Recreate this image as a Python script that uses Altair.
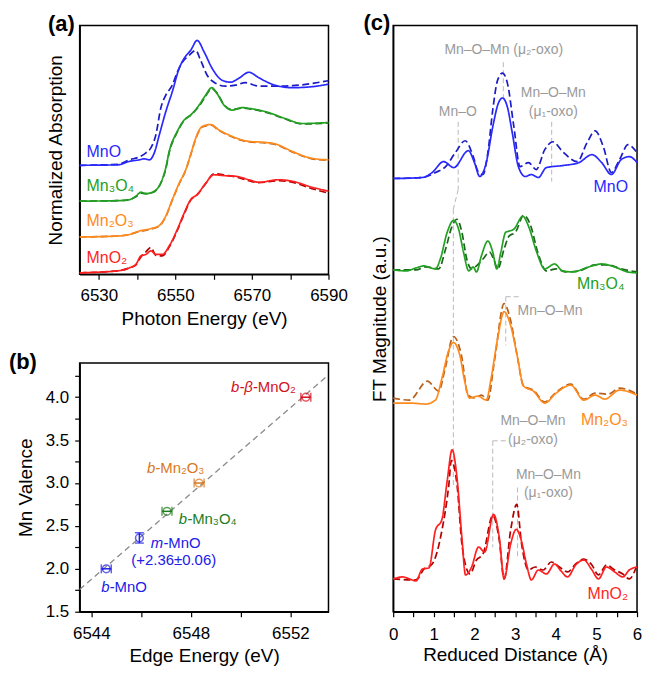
import altair as alt
import pandas as pd

FONT = "Liberation Sans"

# ---------------- (a) Mn K-edge XANES (stacked, offset units) ----------------
a_E_mno_solid = [6525, 6535, 6538.0, 6540.6, 6541.9, 6543.2, 6544.5, 6545.8, 6547.5, 6549.2, 6551.0, 6552.3,
                 6554.0, 6555.7, 6557.5, 6559.6, 6562.2, 6564.4, 6566.6, 6569.2, 6571.8, 6575.3, 6580.5, 6585.7, 6590]
a_mno_solid = [2.19, 2.20, 2.27, 2.30, 2.32, 2.30, 2.44, 2.80, 3.27, 3.67, 4.14, 4.34,
               4.50, 4.70, 4.47, 4.14, 3.90, 3.86, 3.94, 4.06, 3.95, 3.82, 3.75, 3.77, 3.82]
a_E_mno_dash = [6525, 6535, 6538, 6540.6, 6542.3, 6543.6, 6544.9, 6546.2, 6547.5, 6549.2, 6550.5, 6551.8,
                6553.6, 6555.3, 6556.6, 6558.3, 6560.5, 6563.1, 6565.7, 6568.3, 6571.8, 6576.1, 6580.5, 6590]
a_mno_dash = [2.19, 2.21, 2.30, 2.36, 2.44, 2.54, 2.80, 3.34, 3.60, 3.80, 4.06, 4.26,
              4.40, 4.50, 4.30, 4.00, 3.84, 3.78, 3.80, 3.85, 3.78, 3.78, 3.79, 3.89]

a_E_m34 = [6525, 6535, 6538, 6539.7, 6541.0, 6542.3, 6544.5, 6546.2, 6547.5, 6548.4, 6550.5, 6552.3, 6554.0,
           6556.2, 6557.9, 6559.5, 6560.9, 6562.7, 6564.8, 6567.4, 6569.6, 6573.5, 6578.7, 6583.1, 6590]
a_m34_solid = [1.47, 1.48, 1.50, 1.57, 1.65, 1.62, 1.67, 1.84, 2.14, 2.47, 2.87, 3.10, 3.20,
               3.40, 3.60, 3.75, 3.63, 3.40, 3.30, 3.35, 3.33, 3.27, 3.13, 3.03, 3.05]
a_m34_dash = [1.47, 1.48, 1.50, 1.56, 1.63, 1.62, 1.66, 1.83, 2.12, 2.45, 2.86, 3.09, 3.20,
              3.38, 3.58, 3.73, 3.64, 3.41, 3.31, 3.34, 3.32, 3.26, 3.12, 3.02, 3.04]

a_E_m23 = [6525, 6535, 6538, 6540.6, 6543.2, 6545.8, 6547.5, 6549.2, 6551.0, 6552.7, 6554.2, 6555.3,
           6557.0, 6559.2, 6561.4, 6564.0, 6567.4, 6569.2, 6573.5, 6576.1, 6580.5, 6585.7, 6590]
a_m23_solid = [0.75, 0.77, 0.80, 0.87, 0.91, 0.98, 1.17, 1.50, 1.83, 2.10, 2.46, 2.73,
               2.97, 3.01, 2.90, 2.80, 2.70, 2.67, 2.65, 2.62, 2.47, 2.33, 2.30]
a_m23_dash = [0.75, 0.77, 0.80, 0.86, 0.90, 0.97, 1.16, 1.49, 1.82, 2.09, 2.45, 2.72,
              2.96, 3.00, 2.89, 2.79, 2.69, 2.66, 2.64, 2.61, 2.46, 2.32, 2.29]

a_E_mo2 = [6525, 6535, 6538, 6539.7, 6541.0, 6542.3, 6543.6, 6544.9, 6546.6, 6548.4, 6550.5, 6552.3,
           6554.0, 6555.7, 6557.9, 6560.1, 6563.1, 6565.7, 6569.2, 6571.8, 6577.0, 6580.5, 6585.7, 6590]
a_mo2_solid = [0.03, 0.07, 0.13, 0.20, 0.37, 0.40, 0.47, 0.40, 0.40, 0.57, 0.90, 1.23,
               1.50, 1.60, 1.83, 2.00, 1.98, 1.97, 1.90, 1.85, 1.90, 1.87, 1.75, 1.67]
a_mo2_dash = [0.03, 0.07, 0.13, 0.19, 0.35, 0.45, 0.54, 0.38, 0.37, 0.55, 0.88, 1.21,
              1.49, 1.60, 1.82, 2.02, 1.99, 1.96, 1.88, 1.84, 1.88, 1.85, 1.72, 1.63]

a_labels = ["MnO", "Mn₃O₄", "Mn₂O₃", "MnO₂"]
a_label_E = [6526.8, 6526.8, 6526.8, 6526.8]
a_label_y = [2.46, 1.77, 1.07, 0.33]

# ---------------- (b) valence vs edge energy ----------------
b_E = [6544.6, 6545.93, 6547.04, 6548.33, 6552.62]
b_V = [2.0, 2.36, 2.67, 3.0, 4.0]
b_Eerr = [0.2, 0.0, 0.2, 0.2, 0.2]
b_Verr = [0.0, 0.06, 0.0, 0.0, 0.0]
b_colors = ["#2020e8", "#2020e8", "#1e7d1e", "#d9781f", "#d41020"]
fit_E = [6543.53, 6553.53]
fit_V = [1.76, 4.26]
b_lab_italic = ["b-β-", "b-", "b-", "m-", "b-"]
b_lab_regular = ["MnO₂", "Mn₂O₃", "Mn₃O₄", "MnO", "MnO"]
b_lab_E = [6550.69, 6546.77, 6548.05, 6547.09, 6544.93]
b_lab_V = [4.12, 3.18, 2.58, 2.30, 1.79]
b_lab_col = ["#d41020", "#d9781f", "#1e7d1e", "#2020e8", "#2020e8"]
b_note = "(+2.36±0.06)"
b_note_E = 6547.31
b_note_V = 2.10

# ---------------- (c) FT-EXAFS (stacked, offset units) ----------------
c_R_mno_s = [0, 0.72, 0.96, 1.24, 1.49, 1.85, 2.0, 2.13, 2.29, 2.45, 2.59, 2.69, 2.81, 2.93, 3.08, 3.25, 3.40,
             3.57, 3.77, 4.17, 4.57, 4.89, 5.13, 5.37, 5.61, 5.81, 6.0]
c_mno_s = [43.6, 43.7, 44.2, 45.3, 44.7, 46.4, 45.2, 43.8, 45.2, 48.8, 51.2, 51.7, 50.8, 48.2, 44.8, 43.8, 44.0,
           43.7, 44.7, 44.9, 45.2, 46.0, 45.2, 44.0, 45.5, 45.8, 45.2]
c_R_mno_d = [0, 0.72, 1.04, 1.29, 1.53, 1.77, 1.97, 2.09, 2.21, 2.33, 2.45, 2.57, 2.69, 2.81, 2.97, 3.12, 3.33,
             3.52, 3.73, 3.93, 4.17, 4.53, 4.77, 4.97, 5.17, 5.37, 5.57, 5.78, 6.0]
c_mno_d = [43.6, 43.7, 44.2, 44.8, 46.2, 47.4, 45.8, 44.3, 44.0, 46.2, 50.5, 53.5, 54.2, 53.2, 48.8, 44.8, 45.2,
           44.5, 46.5, 47.3, 46.3, 45.3, 47.2, 48.4, 46.8, 44.2, 45.5, 47.0, 46.2]

c_R_m34_s = [0, 0.32, 0.56, 0.76, 1.04, 1.16, 1.33, 1.49, 1.61, 1.73, 1.86, 1.97, 2.05, 2.17, 2.33, 2.45, 2.55,
             2.65, 2.77, 2.85, 2.97, 3.19, 3.33, 3.53, 3.73, 3.97, 4.17, 4.41, 4.81, 5.13, 5.45, 5.77, 6.0]
c_m34_s = [34.4, 34.3, 34.6, 34.8, 34.5, 35.5, 38.2, 39.4, 38.5, 36.2, 34.3, 34.7, 34.2, 35.8, 37.3, 36.2, 34.5,
           36.2, 38.2, 38.3, 38.5, 39.8, 38.8, 36.2, 34.5, 35.0, 34.3, 34.2, 34.7, 35.0, 34.7, 34.2, 34.1]
c_R_m34_d = [0, 0.56, 0.80, 1.12, 1.29, 1.45, 1.57, 1.69, 1.81, 1.93, 2.05, 2.21, 2.37, 2.49, 2.57, 2.73, 2.85,
             3.01, 3.21, 3.37, 3.57, 3.77, 4.01, 4.25, 4.57, 4.97, 5.29, 5.61, 6.0]
c_m34_d = [34.4, 34.4, 34.7, 34.5, 36.5, 38.8, 39.5, 38.2, 35.5, 34.5, 34.8, 35.5, 36.2, 35.3, 34.5, 36.5, 37.8,
           38.2, 39.9, 39.0, 36.0, 34.3, 34.5, 34.2, 34.3, 34.9, 34.9, 34.5, 34.2]

c_R_m23_s = [0, 0.4, 0.8, 1.04, 1.2, 1.36, 1.48, 1.64, 1.76, 1.88, 2.08, 2.29, 2.41, 2.57, 2.73, 2.89, 3.05,
             3.21, 3.45, 3.73, 4.01, 4.37, 4.69, 4.97, 5.21, 5.57, 6.0]
c_m23_s = [21.0, 21.0, 20.9, 21.3, 23.5, 26.2, 27.1, 25.8, 23.2, 21.5, 21.7, 21.3, 23.5, 27.5, 30.2, 28.8, 25.8,
           22.7, 22.2, 21.0, 22.0, 22.8, 21.3, 21.8, 21.4, 22.3, 21.8]
c_R_m23_d = [0, 0.4, 0.84, 1.12, 1.28, 1.48, 1.68, 1.84, 2.0, 2.17, 2.33, 2.49, 2.73, 2.89, 3.05, 3.21, 3.45,
             3.73, 4.01, 4.37, 4.69, 4.97, 5.29, 5.57, 6.0]
c_m23_d = [21.5, 21.3, 23.2, 22.2, 24.5, 27.7, 25.8, 21.8, 21.5, 21.8, 21.3, 25.2, 31.0, 29.3, 25.8, 22.7, 22.3,
           21.1, 22.1, 22.9, 21.4, 22.0, 21.9, 22.5, 21.9]

c_R_mo2_s = [0, 0.24, 0.40, 0.56, 0.72, 0.88, 1.04, 1.20, 1.33, 1.45, 1.57, 1.69, 1.78, 1.93, 2.10, 2.25, 2.47,
             2.61, 2.73, 2.89, 3.03, 3.15, 3.28, 3.40, 3.57, 3.77, 3.97, 4.13, 4.29, 4.49, 4.69, 4.89, 5.05,
             5.25, 5.45, 5.65, 5.81, 6.0]
c_mo2_s = [3.3, 3.5, 3.3, 3.1, 4.3, 4.4, 8.2, 9.3, 13.2, 16.3, 13.5, 7.5, 3.7, 4.5, 6.5, 6.0, 9.8,
           7.5, 3.3, 6.8, 8.3, 7.2, 4.8, 3.2, 4.2, 3.8, 4.8, 4.1, 3.5, 4.7, 5.2, 4.2, 3.3,
           4.5, 4.0, 3.5, 4.2, 4.5]
c_R_mo2_d = [0, 0.56, 0.76, 0.96, 1.20, 1.37, 1.43, 1.57, 1.70, 1.89, 2.05, 2.21, 2.45, 2.61, 2.73, 2.89, 3.04,
             3.16, 3.33, 3.49, 3.69, 3.89, 4.09, 4.29, 4.49, 4.69, 4.89, 5.05, 5.25, 5.45, 5.65, 5.81, 6.0]
c_mo2_d = [3.3, 3.2, 4.3, 4.8, 8.2, 12.8, 15.2, 12.8, 6.5, 3.8, 5.2, 5.8, 9.7, 7.2, 3.3, 8.2, 10.8,
           6.8, 4.2, 4.5, 4.2, 5.0, 4.5, 4.0, 4.8, 5.3, 4.7, 3.7, 4.7, 4.2, 3.8, 3.3, 4.7]

c_labels = ["MnO", "Mn₃O₄", "Mn₂O₃", "MnO₂"]
c_label_R = [5.78, 5.69, 5.78, 5.78]
c_label_y = [42.7, 33.0, 19.3, 1.8]

c_ann_text = ["Mn–O–Mn (μ₂-oxo)", "Mn–O", "Mn–O–Mn", "(μ₁-oxo)", "Mn–O–Mn", "Mn–O–Mn", "(μ₂-oxo)",
              "Mn–O–Mn", "(μ₁-oxo)"]
c_ann_R = [2.72, 1.59, 3.94, 3.94, 3.86, 3.44, 3.44, 3.82, 3.82]
c_ann_y = [56.5, 50.3, 52.2, 50.3, 30.3, 19.2, 17.3, 13.8, 11.9]

# guide segments (start R, start y, end R, end y)
c_seg_x = [2.71, 3.90, 1.60, 1.60, 1.48, 2.77, 2.77, 2.45, 2.45, 3.06]
c_seg_y = [55.3, 49.3, 49.3, 42.5, 40.5, 31.7, 31.7, 17.2, 17.2, 12.5]
c_seg_x2 = [2.71, 3.90, 1.60, 1.48, 1.48, 2.77, 3.10, 2.80, 2.45, 3.06]
c_seg_y2 = [51.5, 43.3, 42.5, 40.5, 12.7, 26.8, 31.7, 17.2, 6.5, 5.5]

# ---------------- styling ----------------
KEYS = ["MnO solid", "MnO dashed", "Mn3O4 solid", "Mn3O4 dashed",
        "Mn2O3 solid", "Mn2O3 dashed", "MnO2 solid", "MnO2 dashed"]
KEY_COLORS = ["#2828ff", "#1c1cc4", "#22a022", "#1a661a",
              "#ff8a1c", "#b8601c", "#ff1f1f", "#b00000"]
LABEL_COLORS = ["#2828ff", "#22a022", "#ff8a1c", "#ff1f1f"]
GRAY = "#9a9a9a"


def long(xs, ys, sample, style):
    return pd.DataFrame({"x": xs, "y": ys, "sample": sample, "style": style})


def line_layer(df, xenc, yenc):
    df = df.copy()
    df["key"] = df["sample"] + " " + df["style"]
    return alt.Chart(df).mark_line(strokeWidth=1.7, interpolate="monotone").encode(
        x=xenc, y=yenc,
        color=alt.Color("key:N", scale=alt.Scale(domain=KEYS, range=KEY_COLORS), legend=None),
        strokeDash=alt.StrokeDash("style:N", scale=alt.Scale(domain=["solid", "dashed"],
                                                             range=[[1, 0], [7, 3.5]]), legend=None),
        detail="key:N",
    )


def tag(text, x, y):
    return alt.Chart(pd.DataFrame({"t": [text]})).mark_text(
        font=FONT, fontSize=22, fontWeight="bold", align="right", baseline="middle", color="black"
    ).encode(text="t:N", x=alt.value(x), y=alt.value(y))


# ----- panel (a)
xa = alt.X("x:Q", scale=alt.Scale(domain=[6525, 6590], nice=False, zero=False),
           axis=alt.Axis(title="Photon Energy (eV)", values=list(range(6530, 6591, 10)),
                         labelExpr="datum.value % 20 == 10 ? format(datum.value, 'd') : ''",
                         labelFlush=False, labelPadding=8, titlePadding=6))
ya = alt.Y("y:Q", scale=alt.Scale(domain=[0, 5], nice=False, zero=False),
           axis=alt.Axis(title="Normalized Absorption", labels=False, ticks=False, titlePadding=14))

a_df = pd.concat([
    long(a_E_mno_dash, a_mno_dash, "MnO", "dashed"), long(a_E_mno_solid, a_mno_solid, "MnO", "solid"),
    long(a_E_m34, a_m34_dash, "Mn3O4", "dashed"), long(a_E_m34, a_m34_solid, "Mn3O4", "solid"),
    long(a_E_m23, a_m23_dash, "Mn2O3", "dashed"), long(a_E_m23, a_m23_solid, "Mn2O3", "solid"),
    long(a_E_mo2, a_mo2_dash, "MnO2", "dashed"), long(a_E_mo2, a_mo2_solid, "MnO2", "solid"),
], ignore_index=True)

a_lab_df = pd.DataFrame({"x": a_label_E, "y": a_label_y, "t": a_labels, "c": LABEL_COLORS})
a_text = alt.Chart(a_lab_df).mark_text(font=FONT, fontSize=16, align="left", baseline="middle").encode(
    x=xa, y=ya, text="t:N", color=alt.Color("c:N", scale=None))

panel_a = alt.layer(line_layer(a_df, xa, ya), a_text, tag("(a)", -5, -1)).properties(width=250, height=250)

# ----- panel (b)
xb = alt.X("x:Q", scale=alt.Scale(domain=[6543.53, 6553.53], nice=False, zero=False),
           axis=alt.Axis(title="Edge Energy (eV)", values=[6544, 6546, 6548, 6550, 6552],
                         labelExpr="datum.value % 4 == 0 ? format(datum.value, 'd') : ''",
                         labelFlush=False, labelPadding=9, titlePadding=5))
yb = alt.Y("y:Q", scale=alt.Scale(domain=[1.5, 4.4], nice=False, zero=False),
           axis=alt.Axis(title="Mn Valence", values=[1.5 + 0.25 * i for i in range(12)],
                         labelExpr="(datum.value * 2) % 1 == 0 ? format(datum.value, '.1f') : ''",
                         labelPadding=6, titlePadding=10))

pts = pd.DataFrame({"x": b_E, "y": b_V, "xe": b_Eerr, "ye": b_Verr, "c": b_colors})
hbar = pts[pts.xe > 0]
vbar = pts[pts.ye > 0]
err_df = pd.concat([
    pd.DataFrame({"x": hbar.x - hbar.xe, "x2": hbar.x + hbar.xe, "y": hbar.y, "y2": hbar.y, "c": hbar.c}),
    pd.DataFrame({"x": vbar.x, "x2": vbar.x, "y": vbar.y - vbar.ye, "y2": vbar.y + vbar.ye, "c": vbar.c}),
], ignore_index=True)
vcap_df = pd.concat([pd.DataFrame({"x": hbar.x - hbar.xe, "y": hbar.y, "c": hbar.c}),
                     pd.DataFrame({"x": hbar.x + hbar.xe, "y": hbar.y, "c": hbar.c})], ignore_index=True)
hcap_df = pd.concat([pd.DataFrame({"x": vbar.x, "y": vbar.y - vbar.ye, "c": vbar.c}),
                     pd.DataFrame({"x": vbar.x, "y": vbar.y + vbar.ye, "c": vbar.c})], ignore_index=True)

fit = alt.Chart(pd.DataFrame({"x": fit_E, "y": fit_V})).mark_line(
    color="#8a8a8a", strokeDash=[6, 4], strokeWidth=1.3).encode(x=xb, y=yb)
errs = alt.Chart(err_df).mark_rule(strokeWidth=1.5).encode(
    x=xb, x2="x2:Q", y=yb, y2="y2:Q", color=alt.Color("c:N", scale=None))
vcaps = alt.Chart(vcap_df).mark_tick(orient="vertical", size=9, thickness=1.5).encode(
    x=xb, y=yb, color=alt.Color("c:N", scale=None))
hcaps = alt.Chart(hcap_df).mark_tick(orient="horizontal", size=9, thickness=1.5).encode(
    x=xb, y=yb, color=alt.Color("c:N", scale=None))
marks = alt.Chart(pts).mark_point(shape="circle", filled=False, size=60, strokeWidth=1.5).encode(
    x=xb, y=yb, color=alt.Color("c:N", scale=None))

blab = pd.DataFrame({"x": b_lab_E, "y": b_lab_V, "it": b_lab_italic, "rg": b_lab_regular, "c": b_lab_col})
lab_it = alt.Chart(blab).mark_text(font=FONT, fontSize=15, fontStyle="italic", align="right",
                                   baseline="middle").encode(
    x=xb, y=yb, text="it:N", color=alt.Color("c:N", scale=None))
lab_rg = alt.Chart(blab).mark_text(font=FONT, fontSize=15, align="left", baseline="middle").encode(
    x=xb, y=yb, text="rg:N", color=alt.Color("c:N", scale=None))
note = alt.Chart(pd.DataFrame({"x": [b_note_E], "y": [b_note_V], "t": [b_note]})).mark_text(
    font=FONT, fontSize=15, align="center", baseline="middle", color="#2020e8").encode(x=xb, y=yb, text="t:N")

panel_b = alt.layer(fit, errs, vcaps, hcaps, marks, lab_it, lab_rg, note, tag("(b)", -43, -1)).properties(
    width=250, height=250)

# ----- panel (c)
xc = alt.X("x:Q", scale=alt.Scale(domain=[0, 6], nice=False, zero=False),
           axis=alt.Axis(title="Reduced Distance (Å)", values=[0.5 * i for i in range(13)],
                         labelExpr="datum.value % 1 == 0 ? format(datum.value, 'd') : ''",
                         labelFlush=False, labelPadding=10, titlePadding=3))
yc = alt.Y("y:Q", scale=alt.Scale(domain=[0, 59], nice=False, zero=False),
           axis=alt.Axis(title="FT Magnitude (a.u.)", labels=False, ticks=False, titlePadding=4))

c_df = pd.concat([
    long(c_R_mno_d, c_mno_d, "MnO", "dashed"), long(c_R_mno_s, c_mno_s, "MnO", "solid"),
    long(c_R_m34_d, c_m34_d, "Mn3O4", "dashed"), long(c_R_m34_s, c_m34_s, "Mn3O4", "solid"),
    long(c_R_m23_d, c_m23_d, "Mn2O3", "dashed"), long(c_R_m23_s, c_m23_s, "Mn2O3", "solid"),
    long(c_R_mo2_d, c_mo2_d, "MnO2", "dashed"), long(c_R_mo2_s, c_mo2_s, "MnO2", "solid"),
], ignore_index=True)

seg = alt.Chart(pd.DataFrame({"x": c_seg_x, "y": c_seg_y, "x2": c_seg_x2, "y2": c_seg_y2})).mark_rule(
    color="#b8b8b8", strokeDash=[5, 3], strokeWidth=1).encode(x=xc, y=yc, x2="x2:Q", y2="y2:Q")
ann = alt.Chart(pd.DataFrame({"x": c_ann_R, "y": c_ann_y, "t": c_ann_text})).mark_text(
    font=FONT, fontSize=14, color=GRAY, align="center", baseline="middle").encode(x=xc, y=yc, text="t:N")
c_lab_df = pd.DataFrame({"x": c_label_R, "y": c_label_y, "t": c_labels, "c": LABEL_COLORS})
c_text = alt.Chart(c_lab_df).mark_text(font=FONT, fontSize=16, align="right", baseline="middle").encode(
    x=xc, y=yc, text="t:N", color=alt.Color("c:N", scale=None))

panel_c = alt.layer(seg, line_layer(c_df, xc, yc), ann, c_text, tag("(c)", -3, -2)).properties(
    width=245, height=589)

left = alt.vconcat(panel_a, panel_b, spacing=21)
chart = alt.hconcat(left, panel_c, spacing=14).properties(
    padding={"left": 0, "top": 2, "right": 0, "bottom": 0}
).configure_view(stroke="black", strokeWidth=1.5).configure_axis(
    domainColor="black", domainWidth=1.5, tickColor="black", tickWidth=1.2, tickSize=5,
    labelFont=FONT, labelFontSize=17, labelColor="black", labelOverlap=False,
    titleFont=FONT, titleFontSize=19, titleFontWeight="normal", titleColor="black", grid=False,
)

chart.save("out.html", embed_options={"renderer": "svg", "actions": False})
